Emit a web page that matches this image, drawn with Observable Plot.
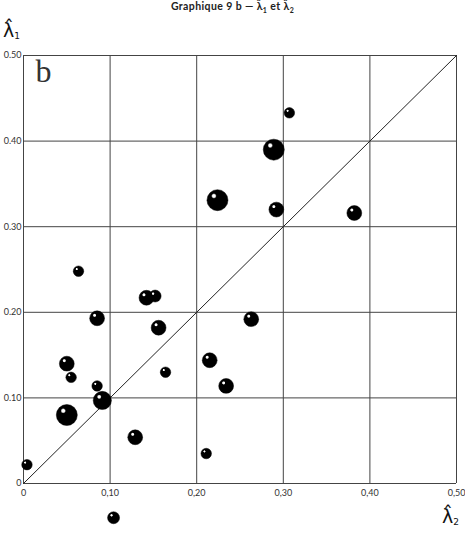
<!DOCTYPE html>
<html>
<head>
<meta charset="utf-8">
<script src="https://cdn.jsdelivr.net/npm/d3@7"></script>
<script src="https://cdn.jsdelivr.net/npm/@observablehq/plot@0.6"></script>
<style>
  html, body { margin: 0; padding: 0; background: #fff; }
  #wrap { position: relative; width: 465px; height: 544px; }
  #title { position: absolute; top: 0px; left: 0; width: 465px; text-align: center;
           font: bold 10.5px Lato, "DejaVu Sans", sans-serif; color: #222; letter-spacing: 0.4px; }
  .lab { position: absolute; font: 19px "DejaVu Sans", sans-serif; color: #111; }
  .lab sub { font-size: 9px; vertical-align: -2px; }
</style>
</head>
<body>
<svg width="0" height="0" style="position:absolute">
  <defs>
    <radialGradient id="sphere" cx="0.33" cy="0.3" r="0.13" spreadMethod="pad">
      <stop offset="0" stop-color="#fff"/>
      <stop offset="0.5" stop-color="#fff"/>
      <stop offset="1" stop-color="#000"/>
    </radialGradient>
  </defs>
</svg>
<div id="wrap">
  <div id="title">Graphique 9 b — λ̂<sub style="font-size:7px">1</sub> et λ̂<sub style="font-size:7px">2</sub></div>
  <div class="lab" style="left:3px; top:19px;">λ̂<sub>1</sub></div>
  <div class="lab" style="left:442px; top:505px;">λ̂<sub>2</sub></div>
</div>
<script>
// λ̂2 (horizontal) values of each point
const lam2 = [0.004, 0.050, 0.050, 0.055, 0.085, 0.091, 0.085, 0.142, 0.152, 0.156, 0.164, 0.129,
              0.211, 0.215, 0.234, 0.224, 0.0635, 0.307, 0.289, 0.292, 0.382, 0.263, 0.104];
// λ̂1 (vertical) values of each point
const lam1 = [0.022, 0.080, 0.140, 0.124, 0.114, 0.097, 0.193, 0.217, 0.219, 0.182, 0.130, 0.054,
              0.035, 0.144, 0.114, 0.331, 0.248, 0.433, 0.390, 0.320, 0.316, 0.192, -0.040];
// relative weight (bubble size class)
const weight = [1, 4, 2, 1, 1, 3, 2, 2, 1.3, 2, 1, 2,
                1, 2, 2, 4, 1, 1, 4, 2, 2, 2, 1.3];

const ticks = [0, 0.1, 0.2, 0.3, 0.4, 0.5];
const xTickLabels = ["0", "0,10", "0,20", "0,30", "0,40", "0,50"];
const yTickLabels = ["0", "0.10", "0.20", "0.30", "0.40", "0.50"];
const panelLabel = ["b"];

const points = lam2.map((x, i) => ({x, y: lam1[i], w: weight[i]}));

const chart = Plot.plot({
  width: 465,
  height: 544,
  marginLeft: 23,
  marginRight: 9,
  marginTop: 55,
  marginBottom: 61,
  x: {domain: [0, 0.5]},
  y: {domain: [0, 0.5]},
  r: {type: "sqrt", domain: [0, 4], range: [0, 10.5]},
  style: {fontFamily: "Lato, 'DejaVu Sans', sans-serif", background: "transparent"},
  marks: [
    Plot.gridX(ticks, {stroke: "#444", strokeOpacity: 1, strokeWidth: 1}),
    Plot.gridY(ticks, {stroke: "#444", strokeOpacity: 1, strokeWidth: 1}),
    Plot.line(ticks, {x: d => d, y: d => d, stroke: "#222", strokeWidth: 1}),
    Plot.axisX(ticks, {tickSize: 0, tickPadding: 6, fontSize: 9, fill: "#333",
      tickFormat: (d, i) => xTickLabels[i], label: null}),
    Plot.axisY(ticks, {tickSize: 0, tickPadding: 2, fontSize: 9, fill: "#333",
      tickFormat: (d, i) => yTickLabels[i], label: null}),
    Plot.text(panelLabel, {frameAnchor: "top-left", dx: 12, dy: 4, text: d => d,
      fontSize: 32, fontFamily: "'Liberation Serif', 'DejaVu Serif', serif", fill: "#333", textAnchor: "start", lineAnchor: "top"}),
    Plot.dot(points, {x: "x", y: "y", r: "w", fill: "url(#sphere)", stroke: "#000", strokeWidth: 0.5})
  ]
});
document.getElementById("wrap").prepend(chart);
chart.style.position = "absolute";
chart.style.left = "0";
chart.style.top = "0";
</script>
</body>
</html>
